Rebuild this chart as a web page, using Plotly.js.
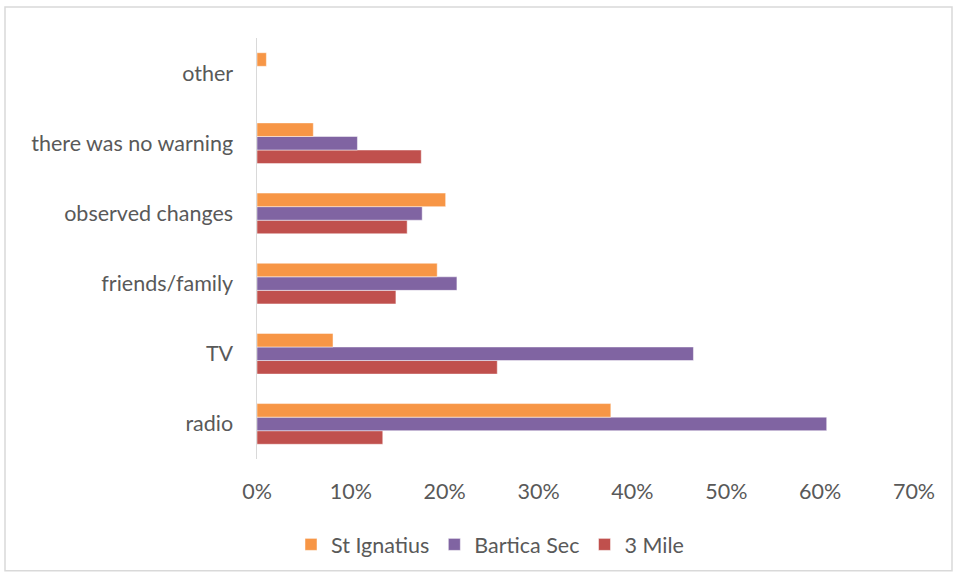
<!DOCTYPE html>
<html>
<head>
<meta charset="utf-8">
<script src="https://cdn.plot.ly/plotly-3.0.1.min.js"></script>
<style>
html,body{margin:0;padding:0;background:#fff;}
#chart{width:957px;height:576px;}
</style>
</head>
<body>
<div id="chart"></div>
<script>
const categories = ["radio", "TV", "friends/family", "observed changes", "there was no warning", "other"];
const stIgnatius = [0.377, 0.081, 0.192, 0.201, 0.060, 0.010];
const barticaSec = [0.607, 0.465, 0.213, 0.176, 0.107, 0];
const threeMile  = [0.134, 0.256, 0.148, 0.160, 0.175, 0];
const xTickVals = [0, 0.1, 0.2, 0.3, 0.4, 0.5, 0.6, 0.7];
const xTickText = ["0%", "10%", "20%", "30%", "40%", "50%", "60%", "70%"];

const mk = (name, vals, color) => ({
  type: "bar", orientation: "h", name: name, y: categories, x: vals,
  marker: {color: color, line: {color: "rgba(255,255,255,0.6)", width: 0.8}},
  hoverinfo: "x+y+name"
});

const data = [
  mk("3 Mile", threeMile, "#C0504D"),
  mk("Bartica Sec", barticaSec, "#8064A2"),
  mk("St Ignatius", stIgnatius, "#F79646")
];

const W = 957, L = 257, R = 43;
const pw = W - L - R;
const FS = 21.5;
const layout = {
  width: 957, height: 576,
  margin: {l: L, r: R, t: 38, b: 116},
  paper_bgcolor: "#fff", plot_bgcolor: "#fff",
  barmode: "group", bargap: 0.42, bargroupgap: 0,
  font: {family: "Lato, 'Open Sans', sans-serif", size: FS, color: "#595959"},
  xaxis: {
    range: [0, 0.7], tickvals: xTickVals, ticktext: xTickText,
    showgrid: false, zeroline: false, showline: false, ticks: "",
    ticklabelstandoff: 17, tickfont: {size: FS, color: "#595959"}, fixedrange: true
  },
  yaxis: {
    type: "category", categoryorder: "array", categoryarray: categories,
    showgrid: false, zeroline: false, showline: true, linecolor: "#d9d9d9", linewidth: 1.5,
    ticks: "", ticklabelstandoff: 18, tickfont: {size: FS, color: "#595959"}, fixedrange: true
  },
  showlegend: true,
  legend: {
    orientation: "h", traceorder: "reversed", x: (490 - L) / pw, xanchor: "center",
    y: -0.20, yanchor: "middle", font: {size: FS, color: "#595959"},
    itemwidth: 30
  },
  shapes: [{
    type: "rect", xref: "paper", yref: "paper",
    x0: (5 - L) / pw, x1: (952 - L) / pw,
    y0: -(572 - 38 - 422) / 422, y1: 1 + (38 - 7) / 422,
    line: {color: "#d9d9d9", width: 1.5}, fillcolor: "rgba(0,0,0,0)", layer: "below"
  }]
};

Plotly.newPlot("chart", data, layout, {displayModeBar: false, staticPlot: true});
</script>
</body>
</html>
